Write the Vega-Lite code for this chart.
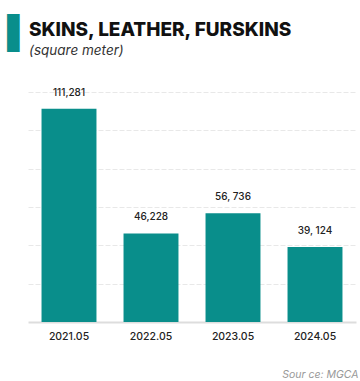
{
  "$schema": "https://vega.github.io/schema/vega-lite/v6.json",
  "width": 328,
  "height": 230,
  "autosize": {"type": "none"},
  "padding": {"left": 28, "right": 4, "top": 92, "bottom": 59},
  "background": "white",
  "title": {
    "text": "SKINS, LEATHER, FURSKINS",
    "subtitle": "(square meter)",
    "anchor": "start",
    "frame": "group",
    "offset": -40,
    "dx": 1,
    "font": "Inter",
    "fontSize": 19,
    "fontWeight": 800,
    "color": "#111111",
    "subtitleFont": "Inter",
    "subtitleFontSize": 13.5,
    "subtitleFontStyle": "italic",
    "subtitleColor": "#333333",
    "subtitlePadding": 4
  },
  "data": {
    "values": [
      {"period": "2021.05", "value": 111281, "label": "111,281"},
      {"period": "2022.05", "value": 46228, "label": "46,228"},
      {"period": "2023.05", "value": 56736, "label": "56, 736"},
      {"period": "2024.05", "value": 39124, "label": "39, 124"}
    ]
  },
  "encoding": {
    "x": {
      "field": "period",
      "type": "nominal",
      "sort": null,
      "scale": {"paddingInner": 0.33, "paddingOuter": 0.165},
      "axis": {
        "labelAngle": 0,
        "ticks": false,
        "domainColor": "#dddddd",
        "domainWidth": 2,
        "labelFont": "Inter",
        "labelFontSize": 10.5,
        "labelFontWeight": 500,
        "labelColor": "#222222",
        "labelPadding": 9,
        "title": "Sour ce: MGCA",
        "titleAnchor": "end",
        "titleAlign": "right",
        "titleFont": "Inter",
        "titleFontSize": 10.5,
        "titleFontStyle": "italic",
        "titleFontWeight": 400,
        "titleColor": "#999999",
        "titleX": 330,
        "titleY": 47
      }
    },
    "y": {
      "field": "value",
      "type": "quantitative",
      "scale": {"domain": [0, 120000], "nice": false},
      "axis": {
        "values": [20000, 40000, 60000, 80000, 100000, 120000],
        "labels": false,
        "ticks": false,
        "domain": false,
        "grid": true,
        "gridColor": "#e8e8e8",
        "gridDash": [5, 2],
        "gridWidth": 1,
        "title": "▌",
        "titleAngle": 0,
        "titleColor": "#098e8b",
        "titleFont": "DejaVu Sans",
        "titleFontSize": 32,
        "titleFontWeight": 400,
        "titleAlign": "left",
        "titleBaseline": "top",
        "titleX": -21,
        "titleY": -74
      }
    }
  },
  "layer": [
    {"mark": {"type": "bar", "color": "#098e8b"}},
    {
      "mark": {
        "type": "text",
        "baseline": "bottom",
        "dy": -11,
        "font": "Inter",
        "fontSize": 10,
        "fontWeight": 500,
        "color": "#222222"
      },
      "encoding": {"text": {"field": "label"}}
    }
  ],
  "config": {"view": {"stroke": null}}
}
